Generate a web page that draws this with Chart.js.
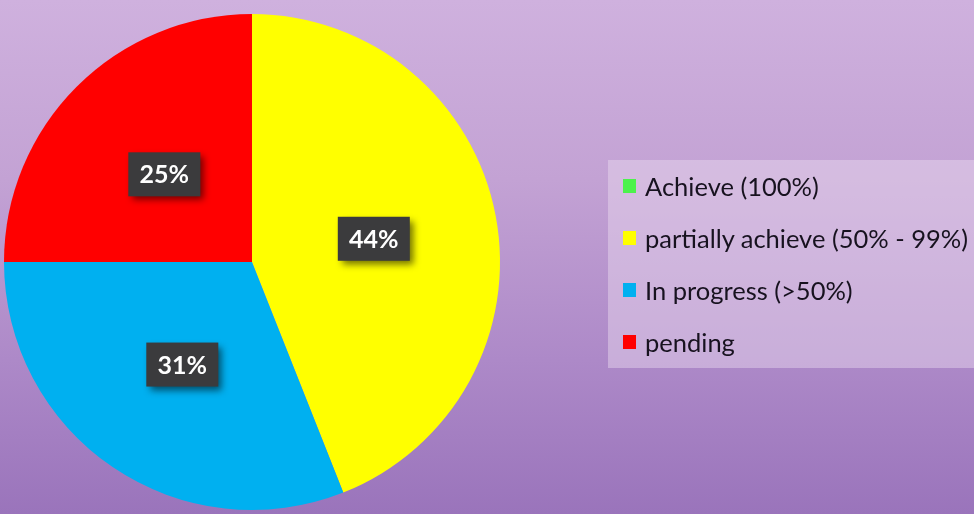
<!DOCTYPE html>
<html>
<head>
<meta charset="utf-8">
<script src="https://cdn.jsdelivr.net/npm/chart.js@4"></script>
<style>
  html,body{margin:0;padding:0;width:974px;height:514px;overflow:hidden}
  body{background:linear-gradient(180deg,#cfb1de 0%,#c3a2d4 35%,#ad89c8 70%,#9a74bb 100%);position:relative;font-family:Lato,"Liberation Sans",sans-serif}
  .wrap{position:absolute;left:0;top:0;width:974px;height:514px}
  #legend{position:absolute;left:608px;top:160px;width:380px;height:208px;background:rgba(235,220,240,0.45);box-sizing:border-box;padding-top:0}
  #legend .row{height:52px;display:flex;align-items:center;font-size:25.5px;color:#17121f}
  #legend .sw{width:13px;height:14px;margin-left:15px;margin-right:9px;flex:none}
</style>
</head>
<body>
<div class="wrap"><canvas id="pie" width="974" height="514"></canvas></div>
<div id="legend"></div>
<script>
// data
const labels = ['Achieve (100%)', 'partially achieve (50% - 99%)', 'In progress (>50%)', 'pending'];
const values = [0, 44, 31, 25];
const colors = ['#4cf24c', '#ffff00', '#00b0f0', '#ff0000'];

// dark boxed percentage labels at half radius
const boxLabels = {
  id: 'boxLabels',
  afterDatasetsDraw(chart){
    const ctx = chart.ctx;
    const meta = chart.getDatasetMeta(0);
    meta.data.forEach((arc, i) => {
      if(!values[i]) return;
      const mid = (arc.startAngle + arc.endAngle) / 2;
      const r = arc.outerRadius / 2;
      const x = arc.x + Math.cos(mid) * r;
      const y = arc.y + Math.sin(mid) * r;
      ctx.save();
      ctx.shadowColor = 'rgba(0,0,0,0.55)';
      ctx.shadowBlur = 7;
      ctx.shadowOffsetX = 4;
      ctx.shadowOffsetY = 4;
      ctx.fillStyle = '#3b3b3d';
      ctx.fillRect(x - 36, y - 22, 72, 44);
      ctx.restore();
      ctx.save();
      ctx.fillStyle = '#ffffff';
      ctx.font = 'bold 25px Lato, "Liberation Sans", sans-serif';
      ctx.textAlign = 'center';
      ctx.textBaseline = 'middle';
      ctx.fillText(values[i] + '%', x, y + 1);
      ctx.restore();
    });
  }
};

new Chart(document.getElementById('pie'), {
  type: 'pie',
  data: {
    labels: labels,
    datasets: [{ data: values, backgroundColor: colors, borderWidth: 0 }]
  },
  options: {
    responsive: false,
    animation: false,
    layout: { padding: { left: 4, right: 474, top: 14, bottom: 4 } },
    plugins: { legend: { display: false }, tooltip: { enabled: false } }
  },
  plugins: [boxLabels]
});

// legend box built from the same arrays
const lg = document.getElementById('legend');
labels.forEach((l, i) => {
  const row = document.createElement('div');
  row.className = 'row';
  row.innerHTML = '<span class="sw" style="background:' + colors[i] + '"></span><span>' + l + '</span>';
  lg.appendChild(row);
});
</script>
</body>
</html>
